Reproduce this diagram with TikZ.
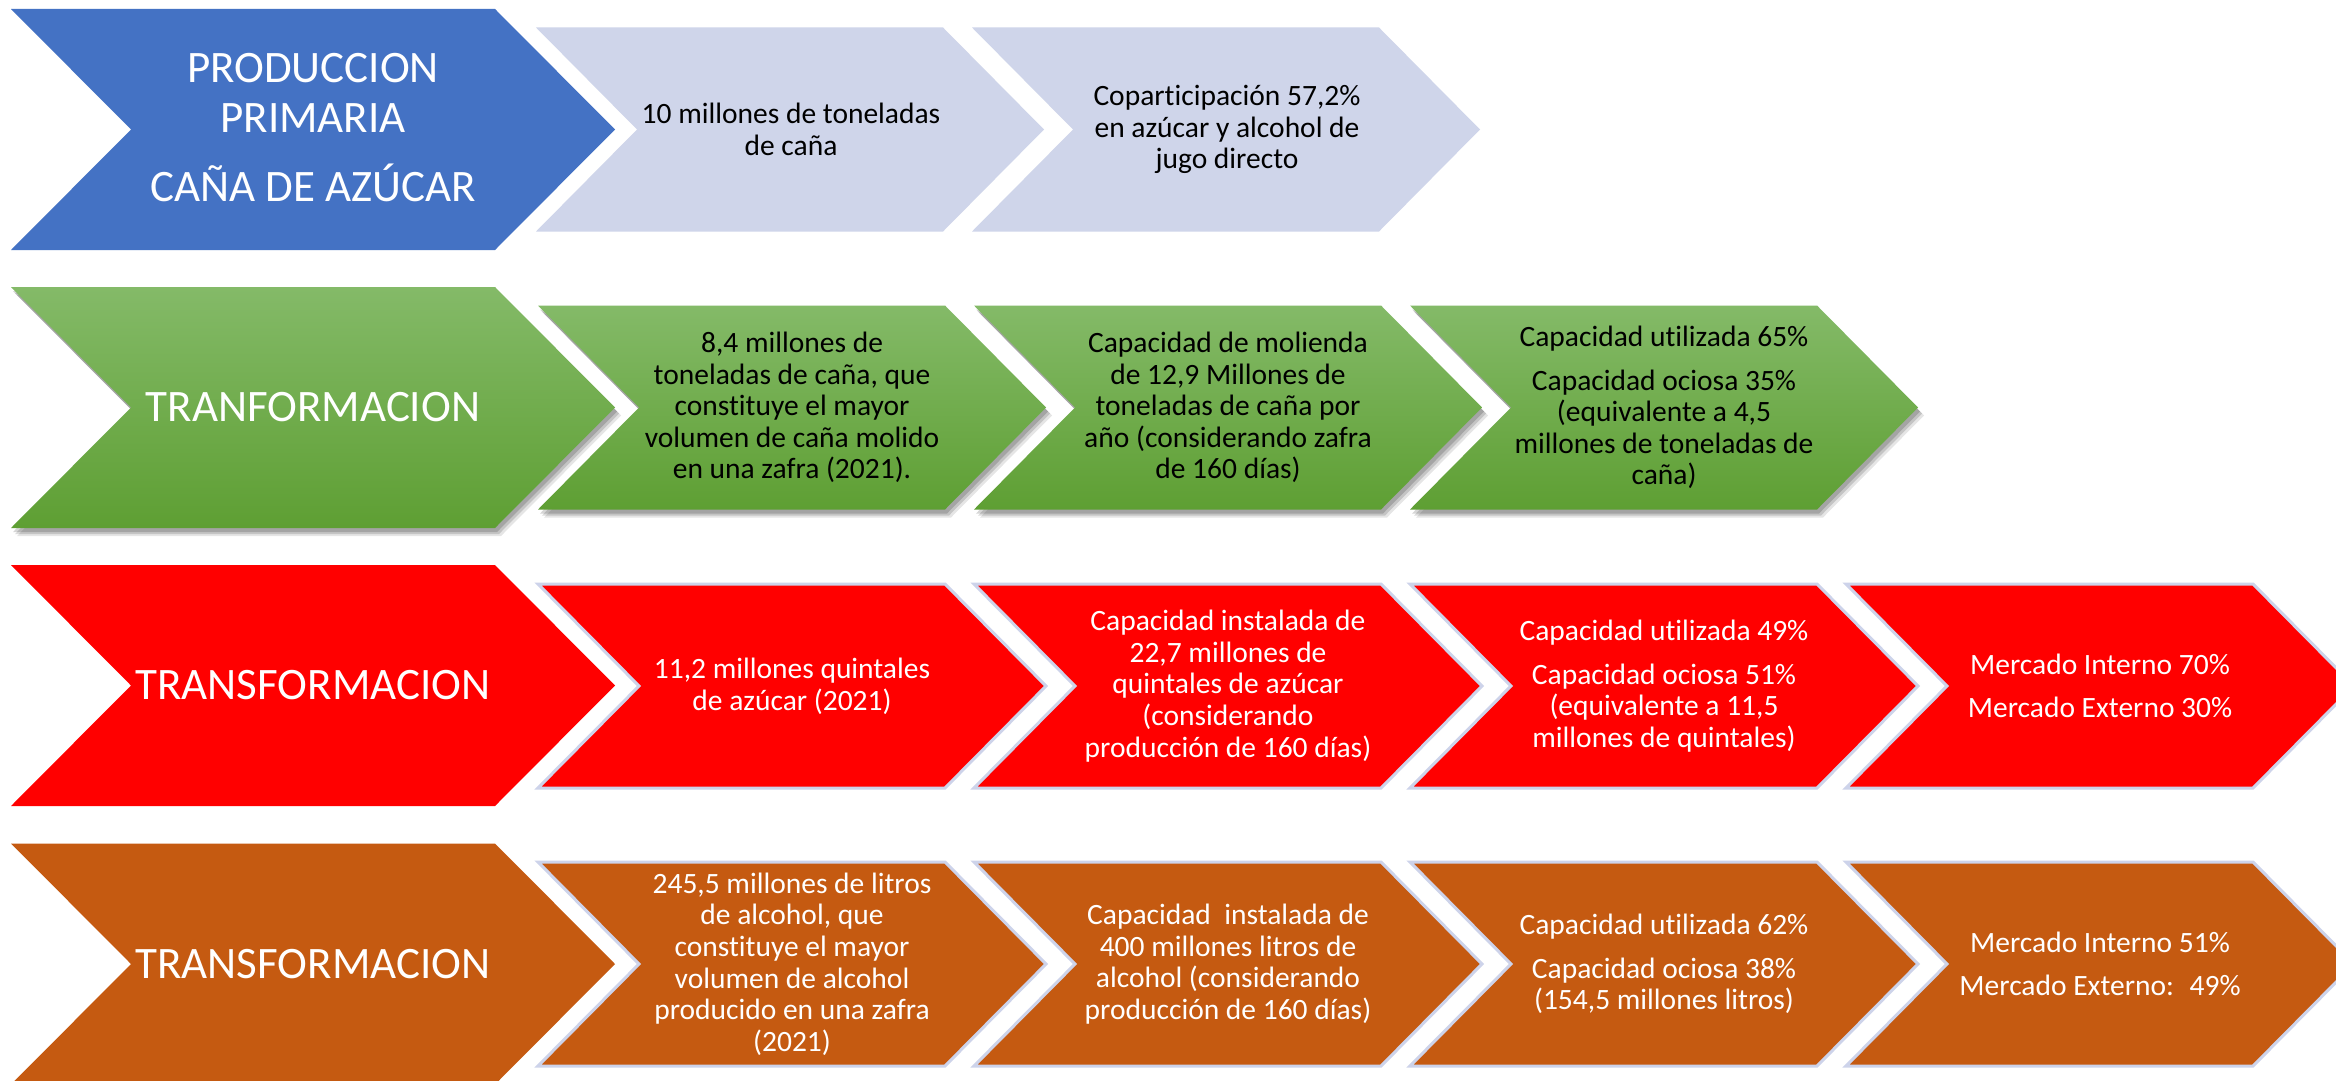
\documentclass[tikz,border=0pt]{standalone}
\usepackage{fontspec}
\setmainfont{Carlito}[Ligatures={NoCommon}]
\definecolor{bluec}{HTML}{4472C4}
\definecolor{lightc}{HTML}{CFD5EA}
\definecolor{greentop}{HTML}{84BA68}
\definecolor{greenbot}{HTML}{5E9F33}
\definecolor{redc}{HTML}{FF0000}
\definecolor{orangec}{HTML}{C55A11}
\definecolor{outc}{HTML}{CDD3EA}
\tikzset{
  bigtxt/.style={text=white, font=\fontsize{45}{50}\selectfont, align=center, inner sep=0pt},
  smalltxt/.style={font=\fontsize{29.5}{31.6}\selectfont, align=center, inner sep=0pt},
  blacktxt/.style={smalltxt, text=black},
  whitetxt/.style={smalltxt, text=white},
  bluefill/.style={fill=bluec},
  lightfill/.style={fill=lightc},
  greenfill/.style={top color=greentop, bottom color=greenbot},
  redfill/.style={fill=redc},
  redsmall/.style={fill=redc, draw=outc, line width=3pt, line join=miter},
  orangefill/.style={fill=orangec},
  orangesmall/.style={fill=orangec, draw=outc, line width=3pt, line join=miter},
  shadowA/.style={fill=black, opacity=0.10, shift={(6,8)}},
  shadowB/.style={fill=black, opacity=0.14, shift={(4,6)}},
  shadowC/.style={fill=black, opacity=0.16, shift={(2,4)}},
}
% big chevron: #1 = centre y, #2 = style
\newcommand\bigchev[2]{%
  \path[#2] (11,#1-120.5) -- (495,#1-120.5) -- (615,#1) -- (495,#1+120.5)
    -- (11,#1+120.5) -- (131,#1) -- cycle;}
% small chevron: #1 = left x, #2 = centre y, #3 = style
\newcommand\smallchev[3]{%
  \path[#3] (#1,#2-102) -- (#1+407,#2-102) -- (#1+508,#2) -- (#1+407,#2+102)
    -- (#1,#2+102) -- (#1+101,#2) -- cycle;}
\newcommand\greenbig[1]{%
  \bigchev{#1}{shadowA}\bigchev{#1}{shadowB}\bigchev{#1}{shadowC}\bigchev{#1}{greenfill}}
\newcommand\greensmall[2]{%
  \smallchev{#1}{#2}{shadowA}\smallchev{#1}{#2}{shadowB}\smallchev{#1}{#2}{shadowC}\smallchev{#1}{#2}{greenfill}}
\begin{document}
\begin{tikzpicture}[x=1pt,y=-1pt]
\useasboundingbox (0,0) rectangle (2336,1081);
\fill[white] (0,0) rectangle (2336,1081);

% ---------------- Row 1 ----------------
\bigchev{129.5}{bluefill}
\smallchev{536}{129.5}{lightfill}
\smallchev{972}{129.5}{lightfill}
\node[bigtxt] (r1big) at (313,128) {PRODUCCION\\PRIMARIA\\[19pt]CAÑA DE AZÚCAR};
\node[blacktxt] (r1s1) at (791,129.5) {10 millones de toneladas\\de caña};
\node[blacktxt] (r1s2) at (1227,129.5) {Coparticipación 57,2\%\\en azúcar y alcohol de\\jugo directo};

% ---------------- Row 2 ----------------
\greenbig{407.5}
\greensmall{538}{407.5}
\greensmall{974}{407.5}
\greensmall{1410}{407.5}
\node[bigtxt] (r2big) at (313,407.5) {TRANFORMACION};
\node[blacktxt] (r2s1) at (792,407.5) {8,4 millones de\\toneladas de caña, que\\constituye el mayor\\volumen de caña molido\\en una zafra (2021).};
\node[blacktxt] (r2s2) at (1228,407.5) {Capacidad de molienda\\de 12,9 Millones de\\toneladas de caña por\\año (considerando zafra\\de 160 días)};
\node[blacktxt] (r2s3) at (1664,407.5) {Capacidad utilizada 65\%\\[12pt]Capacidad ociosa 35\%\\(equivalente a 4,5\\millones de toneladas de\\caña)};

% ---------------- Row 3 ----------------
\bigchev{685.5}{redfill}
\smallchev{538}{686}{redsmall}
\smallchev{974}{686}{redsmall}
\smallchev{1410}{686}{redsmall}
\smallchev{1846}{686}{redsmall}
\node[bigtxt] (r3big) at (313,685.5) {TRANSFORMACION};
\node[whitetxt] (r3s1) at (792,686) {11,2 millones quintales\\de azúcar (2021)};
\node[whitetxt] (r3s2) at (1228,686) {Capacidad instalada de\\22,7 millones de\\quintales de azúcar\\(considerando\\producción de 160 días)};
\node[whitetxt] (r3s3) at (1664,686) {Capacidad utilizada 49\%\\[12pt]Capacidad ociosa 51\%\\(equivalente a 11,5\\millones de quintales)};
\node[whitetxt] (r3s4) at (2100,686) {Mercado Interno 70\%\\[12pt]Mercado Externo 30\%};

% ---------------- Row 4 ----------------
\bigchev{964}{orangefill}
\smallchev{538}{964}{orangesmall}
\smallchev{974}{964}{orangesmall}
\smallchev{1410}{964}{orangesmall}
\smallchev{1846}{964}{orangesmall}
\node[bigtxt] (r4big) at (313,964) {TRANSFORMACION};
\node[whitetxt] (r4s1) at (792,964) {245,5 millones de litros\\de alcohol, que\\constituye el mayor\\volumen de alcohol\\producido en una zafra\\(2021)};
\node[whitetxt] (r4s2) at (1228,964) {Capacidad~ instalada de\\400 millones litros de\\alcohol (considerando\\producción de 160 días)};
\node[whitetxt] (r4s3) at (1664,964) {Capacidad utilizada 62\%\\[12pt]Capacidad ociosa 38\%\\(154,5 millones litros)};
\node[whitetxt] (r4s4) at (2100,964) {Mercado Interno 51\%\\[12pt]Mercado Externo:~ 49\%};
\end{tikzpicture}
\end{document}
